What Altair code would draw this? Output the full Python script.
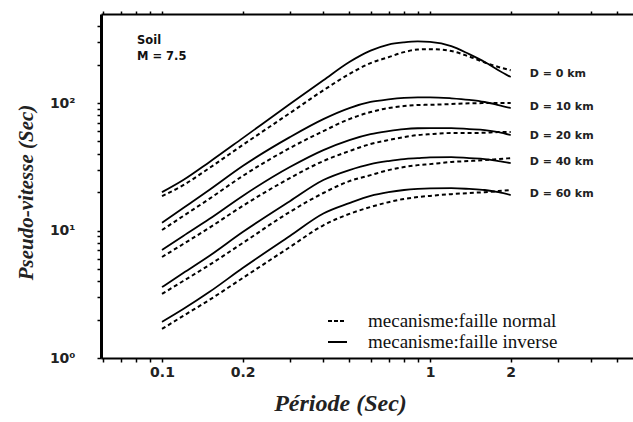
import altair as alt
import pandas as pd

# ---- data ----
periods = [0.1, 0.12, 0.15, 0.2, 0.3, 0.4, 0.5, 0.6, 0.7, 0.8, 0.9, 1.0, 1.2, 1.4, 1.6, 1.8, 2.0]

distances = ["D = 0 km", "D = 10 km", "D = 20 km", "D = 40 km", "D = 60 km"]

# mecanisme: faille inverse (solid)
inv_d0 = [20.0, 24.9, 34.4, 53.1, 98.3, 151, 210, 258, 288, 300, 305, 302, 280, 242, 210, 181, 160]
inv_d10 = [11.5, 15.0, 20.8, 32.1, 54.1, 74.9, 91.4, 102, 107, 110, 111, 111, 109, 106, 102, 96.5, 91.4]
inv_d20 = [7.03, 9.06, 12.3, 18.7, 31.5, 42.8, 51.3, 57.1, 60.3, 62.5, 63.5, 63.7, 63.7, 62.5, 61.4, 59.2, 56.1]
inv_d40 = [3.6, 4.64, 6.31, 9.73, 17.0, 24.9, 29.8, 33.2, 35.1, 36.4, 37.0, 37.5, 37.7, 37.0, 36.4, 35.1, 33.8]
inv_d60 = [1.92, 2.42, 3.29, 5.08, 9.06, 13.6, 16.4, 18.7, 20.0, 20.8, 21.2, 21.4, 21.5, 21.2, 20.8, 20.0, 19.0]

# mecanisme: faille normal (dashed)
nor_d0 = [18.6, 22.7, 30.9, 46.9, 83.5, 126, 169, 206, 229, 251, 263, 265, 256, 232, 208, 192, 181]
nor_d10 = [10.1, 13.0, 17.7, 26.8, 44.4, 60.3, 74.9, 85.0, 91.4, 94.7, 96.5, 97.0, 98.3, 99.5, 100, 100, 100]
nor_d20 = [6.2, 7.84, 10.5, 15.6, 25.8, 35.1, 42.0, 47.7, 51.3, 54.1, 56.1, 57.1, 58.2, 58.2, 58.5, 59.2, 59.2]
nor_d40 = [3.18, 4.02, 5.36, 7.98, 14.0, 19.7, 24.4, 27.2, 29.8, 31.5, 32.6, 33.2, 34.5, 35.1, 35.7, 36.4, 37.0]
nor_d60 = [1.69, 2.14, 2.85, 4.24, 7.42, 11.0, 13.5, 15.3, 16.7, 17.7, 18.3, 18.7, 19.3, 19.7, 20.0, 20.4, 20.8]

x_tick_values = [0.06, 0.07, 0.08, 0.09, 0.1, 0.2, 0.3, 0.4, 0.5, 0.6, 0.7, 0.8, 0.9,
                 1, 2, 3, 4, 5]
y_tick_values = [1, 2, 3, 4, 5, 6, 7, 8, 9, 10, 20, 30, 40, 50, 60, 70, 80, 90, 100, 200, 300, 400]

legend_labels = ["mecanisme:faille normal", "mecanisme:faille inverse"]
site_labels = ["Soil", "M = 7.5"]


def long_frame(series_list):
    rows = []
    for name, vals in zip(distances, series_list):
        for t, v in zip(periods, vals):
            rows.append({"dist": name, "T": t, "V": v})
    return pd.DataFrame(rows)


df_inv = long_frame([inv_d0, inv_d10, inv_d20, inv_d40, inv_d60])
df_nor = long_frame([nor_d0, nor_d10, nor_d20, nor_d40, nor_d60])
df_lab = pd.DataFrame({"dist": distances, "T": [periods[-1]] * 5,
                       "V": [s[-1] for s in [nor_d0, nor_d10, nor_d20, nor_d40, nor_d60]]})

xscale = alt.Scale(type="log", domain=[0.0592, 5.72], nice=False)
yscale = alt.Scale(type="log", domain=[1, 500], nice=False)

SANS = "DejaVu Sans"
SERIF = "Liberation Serif"

x_label_expr = ("(abs(datum.value-0.1)<1e-9 || abs(datum.value-0.2)<1e-9 || "
                "abs(datum.value-1)<1e-9 || abs(datum.value-2)<1e-9) ? datum.label : ''")
y_label_expr = ("abs(datum.value-1)<1e-9 ? '10⁰' : abs(datum.value-10)<1e-9 ? '10¹' : "
                "abs(datum.value-100)<1e-9 ? '10²' : ''")

bottom_axis = alt.Axis(
    values=x_tick_values, labelExpr=x_label_expr, format="~g", labelOverlap=False,
    labelFlush=False, grid=False, tickSize=4, tickColor="black", tickWidth=1.5,
    domainColor="black", domainWidth=2, labelFont=SANS, labelFontWeight="bold",
    labelFontSize=14, labelColor="#222", labelPadding=3,
    title="Période (Sec)", titleFont=SERIF, titleFontStyle="italic", titleFontWeight="bold",
    titleFontSize=24, titleColor="#222", titleX=239, titleY=52, titleAnchor="middle",
    titleAlign="center", titleBaseline="alphabetic",
)
top_axis = alt.Axis(
    orient="top", values=x_tick_values, labels=False, grid=False, tickSize=3,
    tickColor="black", tickWidth=1.5, domainColor="black", domainWidth=2, title=None,
)
left_axis = alt.Axis(
    values=y_tick_values, labelExpr=y_label_expr, labelOverlap=False, labelFlush=False,
    grid=False, tickSize=4, tickColor="black", tickWidth=1.5, domainColor="black",
    domainWidth=3, labelFont=SANS, labelFontWeight="bold", labelFontSize=14,
    labelColor="#222", labelPadding=22,
    title="Pseudo-vitesse (Sec)", titleFont=SERIF, titleFontStyle="italic",
    titleFontWeight="bold", titleFontSize=21, titleColor="#222", titleAngle=270,
    titleX=-75, titleY=178, titleAlign="center", titleBaseline="middle",
)

solid = alt.Chart(df_inv).mark_line(color="black", strokeWidth=1.8, interpolate="monotone").encode(
    x=alt.X("T:Q", scale=xscale, axis=bottom_axis),
    y=alt.Y("V:Q", scale=yscale, axis=left_axis),
    detail="dist:N",
)

dashed = alt.Chart(df_nor).mark_line(color="black", strokeWidth=2, strokeDash=[4, 3],
                                     interpolate="monotone").encode(
    x=alt.X("T:Q", scale=xscale, axis=top_axis),
    y=alt.Y("V:Q", scale=yscale, axis=None),
    detail="dist:N",
)

labels = alt.Chart(df_lab).mark_text(align="left", baseline="middle", dx=19, dy=4,
                                     font=SANS, fontWeight="bold", fontSize=11,
                                     color="#222").encode(
    x=alt.X("T:Q", scale=xscale, axis=None),
    y=alt.Y("V:Q", scale=yscale, axis=None),
    text="dist:N",
)


def text_layer(txt, x, y, font, size, weight="normal"):
    return alt.Chart(pd.DataFrame({"t": [txt]})).mark_text(
        align="left", baseline="middle", font=font, fontSize=size, fontWeight=weight,
        color="#111"
    ).encode(x=alt.value(x), y=alt.value(y), text="t:N")


soil1 = text_layer(site_labels[0], 36, 27, SANS, 11.5, "bold")
soil2 = text_layer(site_labels[1], 36, 43, SANS, 11.5, "bold")
leg1 = text_layer(legend_labels[0], 267, 307, SERIF, 19)
leg2 = text_layer(legend_labels[1], 267, 328, SERIF, 19)

leg_dash = alt.Chart(pd.DataFrame({"k": [0]})).mark_rule(
    color="black", strokeWidth=2, strokeDash=[4, 2]
).encode(x=alt.value(227), x2=alt.value(245), y=alt.value(307))

leg_solid = alt.Chart(pd.DataFrame({"k": [0]})).mark_rule(
    color="black", strokeWidth=2
).encode(x=alt.value(227), x2=alt.value(246), y=alt.value(328))

chart = alt.layer(
    solid, dashed, labels, soil1, soil2, leg1, leg2, leg_dash, leg_solid
).resolve_axis(
    x="independent", y="independent"
).properties(
    width=532, height=344, autosize=alt.AutoSizeParams(type="none"),
    padding={"left": 101, "top": 14, "right": 0, "bottom": 64},
    background="white",
).configure_view(stroke=None)

chart.save("out.html", embed_options={"renderer": "svg", "actions": False})
